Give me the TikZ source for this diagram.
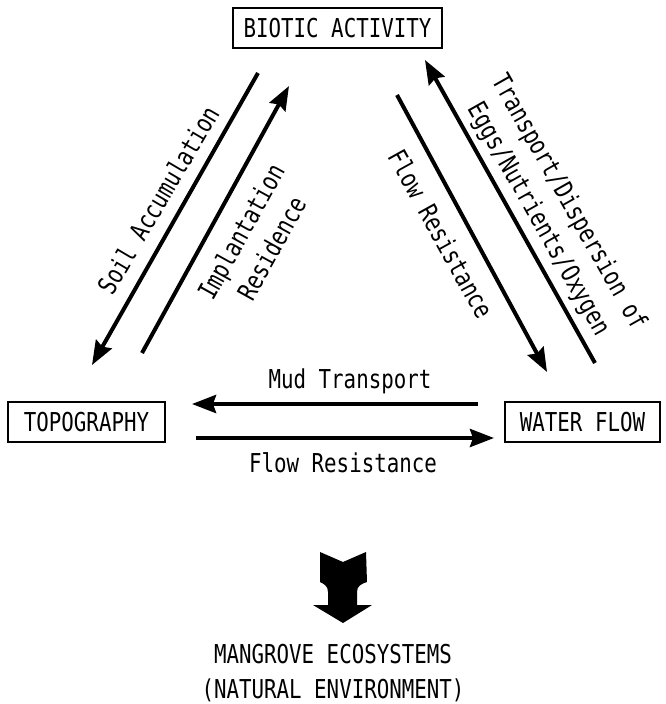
\documentclass[tikz,border=0pt]{standalone}
\usepackage{fontspec}
\newfontfamily\diafont[FakeStretch=0.80]{DejaVu Sans Mono}
\usetikzlibrary{arrows.meta}
\begin{document}
\begin{tikzpicture}[x=1pt,y=-1pt,
  every node/.style={font=\diafont\fontsize{26}{33}\selectfont, inner sep=0pt},
  box/.style={draw, line width=1.8pt, minimum height=40pt},
  arr/.style={line width=4pt, -{Stealth[length=24pt,width=18pt,inset=3pt]}},
  lbl/.style={align=center},
  lbl2/.style={align=center, font=\diafont\fontsize{26}{35}\selectfont}]
\useasboundingbox (0,0) rectangle (666,704);
% boxes
\node[box, minimum width=209pt] (bio) at (337.5,28) {BIOTIC ACTIVITY};
\node[box, minimum width=157pt] (topo) at (86.5,422) {TOPOGRAPHY};
\node[box, minimum width=155pt] (water) at (582.5,422) {WATER FLOW};
% arrow end points
\coordinate (sa1) at (258,73);  \coordinate (sa2) at (92,365);
\coordinate (ir1) at (142,353); \coordinate (ir2) at (289,86);
\coordinate (fr1) at (397,95);  \coordinate (fr2) at (547,372);
\coordinate (td1) at (595,363); \coordinate (td2) at (425,60);
\coordinate (mt1) at (478,404); \coordinate (mt2) at (192,404);
\coordinate (hr1) at (196,438); \coordinate (hr2) at (494,438);
% arrows
\draw[arr] (sa1) -- (sa2);
\draw[arr] (ir1) -- (ir2);
\draw[arr] (fr1) -- (fr2);
\draw[arr] (td1) -- (td2);
\draw[arr] (mt1) -- (mt2);
\draw[arr] (hr1) -- (hr2);
% labels
\node[lbl, rotate=59.5] (lsa) at (158,200) {Soil Accumulation};
\node[lbl2, rotate=61] (lir) at (256,240) {Implantation\\Residence};
\node[lbl, rotate=-61] (lfr) at (441,234) {Flow Resistance};
\node[lbl2, rotate=-60.5] (ltd) at (553,211) {Transport/Dispersion of\\Eggs/Nutrients/Oxygen};
\node (lmt) at (350,381) {Mud Transport};
\node (lhr) at (343,463) {Flow Resistance};
% block arrow
\fill (320,552) -- (343,562) -- (366,552) -- (367,582)
  .. controls (361,584) and (357,586) .. (357,592) -- (357,605)
  -- (372,605) -- (343,623) -- (313,605) -- (328,605) -- (328,592)
  .. controls (328,586) and (324,584) .. (320,582) -- cycle;
\node[lbl2] (mg) at (333,673) {MANGROVE ECOSYSTEMS\\(NATURAL ENVIRONMENT)};
\end{tikzpicture}
\end{document}
